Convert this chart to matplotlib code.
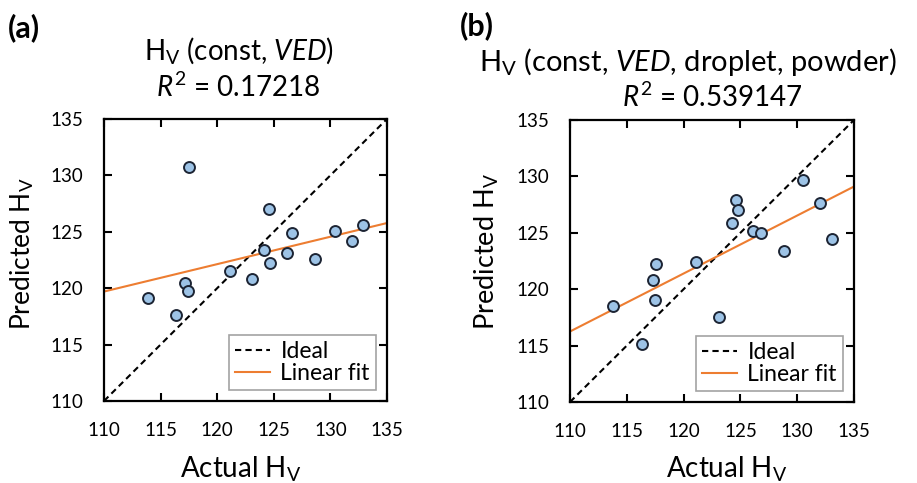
import numpy as np
import matplotlib
matplotlib.use('Agg')
import matplotlib.pyplot as plt

plt.rcParams['font.family'] = ['Lato', 'DejaVu Sans']
plt.rcParams['mathtext.fontset'] = 'custom'
plt.rcParams['mathtext.rm'] = 'Lato'
plt.rcParams['mathtext.it'] = 'Lato:italic'
plt.rcParams['mathtext.bf'] = 'Lato:bold'

# panel (a): H_V (const, VED)
actual_a = [113.9, 116.35, 117.2, 117.45, 117.55, 121.15, 123.1, 124.1, 124.55,
            124.7, 126.15, 126.65, 128.65, 130.45, 131.9, 132.9]
pred_a = [119.1, 117.6, 120.5, 119.75, 130.7, 121.5, 120.8, 123.4, 127.0,
          122.25, 123.15, 124.85, 122.6, 125.1, 124.2, 125.6]
fit_a = (0.243, 119.7)   # slope, value at x = 110
r2_a = '0.17218'

# panel (b): H_V (const, VED, droplet, powder)
actual_b = [113.8, 116.35, 117.3, 117.5, 117.55, 121.1, 123.15, 124.25, 124.65,
            124.75, 126.15, 126.8, 128.8, 130.55, 132.05, 133.05]
pred_b = [118.55, 115.1, 120.8, 119.05, 122.25, 122.45, 117.55, 125.85, 127.9,
          127.0, 125.2, 124.95, 123.4, 129.7, 127.65, 124.45]
fit_b = (0.514, 116.25)
r2_b = '0.539147'

lims = [110, 135]
ticks = [110, 115, 120, 125, 130, 135]

fig = plt.figure(figsize=(9.17, 4.83), dpi=100)
ax_a = fig.add_axes([0.1134, 0.1698, 0.3086, 0.5839])
ax_b = fig.add_axes([0.6216, 0.1677, 0.3097, 0.5839])


def draw(ax, x, y, fit):
    ax.plot(lims, lims, '--', color='black', lw=1.5, dashes=(3, 2),
            label='Ideal', zorder=2)
    xs = np.array(lims, dtype=float)
    ax.plot(xs, fit[1] + fit[0] * (xs - lims[0]), '-', color='#ED7D31', lw=1.5,
            label='Linear fit', zorder=2)
    ax.scatter(x, y, s=62, facecolor='#9DC3E6', edgecolor='#1c2433',
               linewidth=1.4, zorder=3)
    ax.set_xlim(lims)
    ax.set_ylim(lims)
    ax.set_xticks(ticks)
    ax.set_yticks(ticks)
    ax.tick_params(direction='in', length=6, width=1.5, top=True, right=True,
                   labelsize=13.5, pad=15, colors='black')
    for sp in ax.spines.values():
        sp.set_linewidth(1.6)
    leg = ax.legend(loc='lower right', fontsize=16.5, frameon=True, fancybox=False,
                    edgecolor='#8c8c8c', borderaxespad=0.5, handlelength=1.55,
                    handletextpad=0.45, labelspacing=0.05, borderpad=0.25)
    leg.get_frame().set_linewidth(1.2)


draw(ax_a, actual_a, pred_a, fit_a)
draw(ax_b, actual_b, pred_b, fit_b)

# titles (two lines each, baselines placed separately)
fig.text(0.261, 0.876, r'H$_\mathrm{V}$ (const, $\it{VED}$)', ha='center', va='baseline', fontsize=20)
fig.text(0.2595, 0.800, r'$R^\mathrm{2}$ = ' + r2_a, ha='center', va='baseline', fontsize=20)
fig.text(0.7497, 0.853, r'H$_\mathrm{V}$ (const, $\it{VED}$, droplet, powder)', ha='center', va='baseline', fontsize=21)
fig.text(0.777, 0.779, r'$R^\mathrm{2}$ = ' + r2_b, ha='center', va='baseline', fontsize=20)

fig.text(0.009, 0.943, '(a)', fontsize=22, fontweight='bold', va='center')
fig.text(0.501, 0.947, '(b)', fontsize=22, fontweight='bold', va='center')

# axis labels
fig.text(0.262, 0.0124, r'Actual H$_\mathrm{V}$', ha='center', va='baseline', fontsize=20)
fig.text(0.792, 0.0124, r'Actual H$_\mathrm{V}$', ha='center', va='baseline', fontsize=20)
fig.text(0.024, 0.474, r'Predicted H$_\mathrm{V}$', ha='center', va='center', rotation=90, fontsize=19)
fig.text(0.531, 0.480, r'Predicted H$_\mathrm{V}$', ha='center', va='center', rotation=90, fontsize=19.5)

fig.savefig('out.png', dpi=100)
